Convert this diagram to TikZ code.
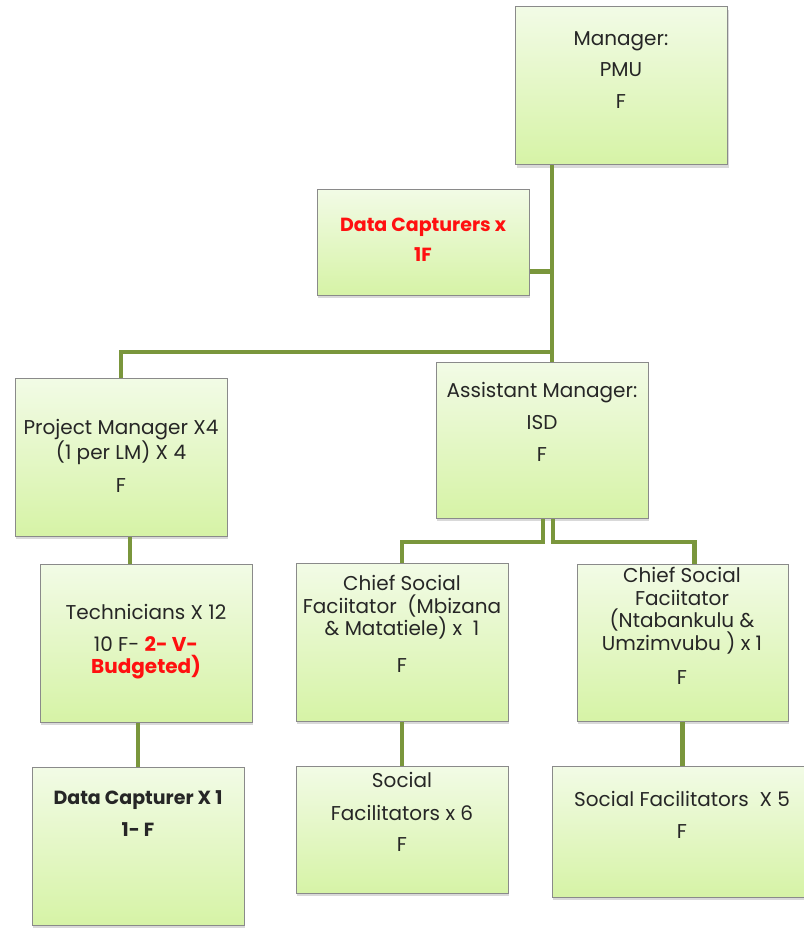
\documentclass[tikz,border=0pt]{standalone}
\usepackage{fontspec}
\setmainfont{Poppins}
\usetikzlibrary{shadows}
\definecolor{boxtop}{HTML}{F2FBE6}
\definecolor{boxbot}{HTML}{D6F3A6}
\definecolor{boxline}{HTML}{8A8A8A}
\definecolor{linkgreen}{HTML}{7A963C}
\definecolor{vacant}{HTML}{FF1010}
\tikzset{
  post/.style={draw=boxline, line width=1pt, top color=boxtop, bottom color=boxbot,
    minimum width=212pt, minimum height=158pt, inner sep=0pt,
    drop shadow={opacity=0.3, shadow xshift=1pt, shadow yshift=-3pt}},
  txt/.style={align=center, inner sep=0pt, font=\fontsize{20}{22.5}\selectfont, text=black!85},
  link/.style={draw=linkgreen, line width=4.5pt}
}
\begin{document}
\begin{tikzpicture}[x=1pt,y=-1pt]
\useasboundingbox (0,0) rectangle (803,928);
% boxes
\node[post] (mgr) at (621.5,86) {};
\node[post, minimum height=106pt] (dcap) at (423,242) {};
\node[post] (pm) at (121,457) {};
\node[post, minimum height=156pt] (am) at (542,440) {};
\node[post] (tech) at (146,643) {};
\node[post] (dc) at (138,846) {};
\node[post] (csfa) at (402,642) {};
\node[post, minimum width=211pt, minimum height=157pt] (csfb) at (682.5,642.5) {};
\node[post, minimum height=127pt] (sfa) at (402,829.5) {};
\node[post, minimum width=260pt, minimum height=131pt] (sfb) at (682,831.5) {};
% lines
\coordinate (hub) at (552,352);
\coordinate (bus) at (548,542);
\draw[link] (mgr.south -| hub) -- (hub) -- (hub -| pm.north) -- (pm.north);
\draw[link] (hub) -- (hub |- am.north);
\draw[link] ([yshift=24pt]dcap.south east) -- ([yshift=24pt]dcap.south east -| hub);
\draw[link] ([xshift=9pt]pm.south) -- ([xshift=9pt]pm.south |- tech.north);
\draw[link] (tech.south -| dc.north) -- (dc.north);
\draw[link] ([xshift=1pt]am.south) -- ([xshift=1pt]am.south |- bus) -| (csfa.north);
\draw[link] ([xshift=11pt]am.south) -- ([xshift=11pt]am.south |- bus) -| ([xshift=12pt]csfb.north);
\draw[link] (csfa.south) -- (sfa.north);
\draw[link] (csfb.south) -- (csfb.south |- sfb.north);
% texts
\node[txt] (mgr-t) at (621,70) {Manager:\\[9pt]PMU\\[9pt]F};
\node[txt, font=\fontsize{19}{30}\selectfont\bfseries, text=vacant] (dcap-t) at (423,240) {Data Capturers x\\1F};
\node[txt] (pm-t) at (121,456) {Project Manager X4\\(1 per LM) X 4\\[10pt]F};
\node[txt] (am-t) at (542,422) {Assistant Manager:\\[9pt]ISD\\[10pt]F};
\node[txt] (csfa-t) at (402,624) {Chief Social\\Faciitator \ (Mbizana\\\& Matatiele) x \ 1\\[14pt]F};
\node[txt] (csfb-t) at (682,626) {Chief Social\\Faciitator\\(Ntabankulu \&\\Umzimvubu ) x 1\\[12pt]F};
\node[txt] (tech-t) at (146,642) {Technicians X 12\\[9pt]10 F- {\color{vacant}\bfseries 2- V-}\\{\color{vacant}\bfseries Budgeted)}};
\node[txt, font=\fontsize{19}{32}\selectfont\bfseries] (dc-t) at (138,814) {Data Capturer X 1\\1- F};
\node[txt] (sfa-t) at (402,812) {Social\\[10pt]Facilitators x 6\\[9pt]F};
\node[txt] (sfb-t) at (682,815) {Social Facilitators \ X 5\\[9pt]F};
\end{tikzpicture}
\end{document}
